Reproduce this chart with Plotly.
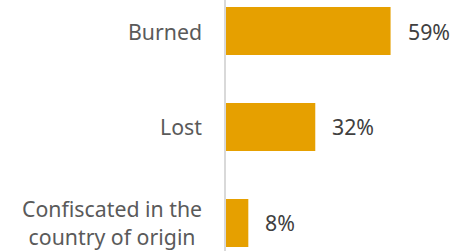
import plotly.graph_objects as go

categories = ["Burned", "Lost", "Confiscated in the<br>country of origin"]
values = [59, 32, 8]
value_labels = ["59%", "32%", "8%"]

BAR = "#E6A000"
FONT = "Noto Sans"

fig = go.Figure(go.Bar(
    x=values, y=categories, orientation="h",
    marker=dict(color=BAR, line=dict(width=0)),
    width=0.5,
    hoverinfo="skip",
))

for c, v, t in zip(categories, values, value_labels):
    fig.add_annotation(x=v, y=c, text=t, showarrow=False, xanchor="left",
                       xshift=15, font=dict(family=FONT, size=21.3, color="#404040"))
    fig.add_annotation(x=0, y=c, text=c, showarrow=False, xanchor="right", align="center",
                       xshift=-22, font=dict(family=FONT, size=21.3, color="#5a5a5a"))

fig.update_layout(
    width=450, height=251,
    margin=dict(l=226, r=0, t=0, b=0),
    paper_bgcolor="white", plot_bgcolor="white",
    showlegend=False,
    font=dict(family=FONT, size=21.3, color="#595959"),
    xaxis=dict(range=[0, 80.3], visible=False, showgrid=False, zeroline=False, fixedrange=True),
    yaxis=dict(range=[2.292, -0.323], type="category", showgrid=False, zeroline=False,
               showline=True, linecolor="#d9d9d9", linewidth=2,
               ticks="", showticklabels=False),
)

fig.write_html("out.html", config={"displayModeBar": False},
               post_script="document.body.style.margin='0';document.body.style.overflow='hidden';")
